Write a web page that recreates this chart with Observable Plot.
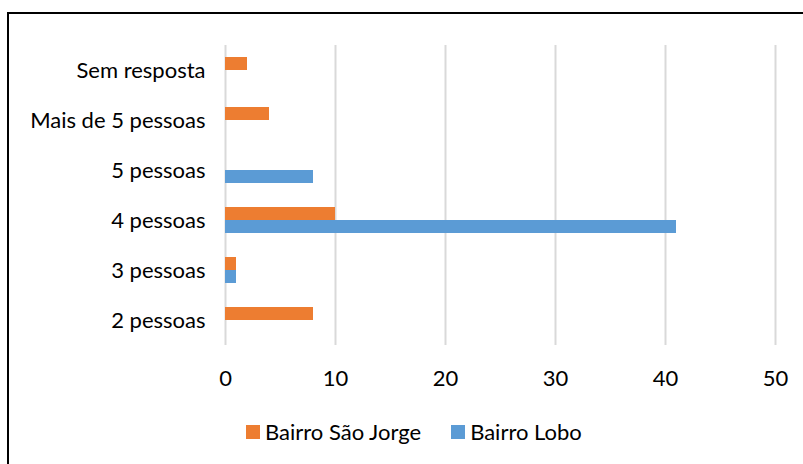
<!DOCTYPE html>
<html><head><meta charset="utf-8">
<script src="https://cdn.jsdelivr.net/npm/d3@7"></script>
<script src="https://cdn.jsdelivr.net/npm/@observablehq/plot@0.6"></script>
<style>
body{margin:0;background:#fff;font-family:Lato, "Open Sans", sans-serif;width:803px;height:464px;overflow:hidden;position:relative;}
#frame{position:absolute;left:7px;top:12px;width:830px;height:490px;border:2px solid #000;box-sizing:border-box;pointer-events:none;}
#chart{position:absolute;left:0;top:0;}
#legend{position:absolute;left:246px;top:421px;display:flex;align-items:center;font-size:22px;color:#000;line-height:22px;}
.sw{display:inline-block;width:14px;height:14px;margin-right:5px;}
.item{display:flex;align-items:center;margin-right:30px;}
</style></head>
<body>
<div id="chart"></div>
<div id="legend"></div>
<div id="frame"></div>
<script>
const categories = ["Sem resposta","Mais de 5 pessoas","5 pessoas","4 pessoas","3 pessoas","2 pessoas"];
const series = ["Bairro São Jorge","Bairro Lobo"];
const saoJorge = [2,4,0,10,1,8];
const lobo = [0,0,8,41,1,0];
const xTicks = [0,10,20,30,40,50];
const colors = ["#ED7D31","#5B9BD5"];

const rows = [];
categories.forEach((c,i)=>{
  rows.push({category:c, series:series[0], value:saoJorge[i]});
  rows.push({category:c, series:series[1], value:lobo[i]});
});

const chart = Plot.plot({
  width:803, height:395,
  marginLeft:225, marginRight:28, marginTop:43, marginBottom:48,
  style:{fontSize:"22px", fontFamily:"Lato, 'Open Sans', sans-serif", color:"#000", background:"transparent"},
  x:{domain:[0,50], ticks:xTicks, tickSize:0, tickPadding:25, label:null},
  fy:{domain:categories, paddingInner:0, paddingOuter:0, axis:"left", tickSize:0, tickPadding:20, label:null},
  y:{domain:series, paddingInner:0, paddingOuter:0.875, axis:null},
  color:{domain:series, range:colors},
  marks:[
    Plot.ruleX(xTicks,{stroke:"#D9D9D9", strokeWidth:2}),
    Plot.barX(rows,{fy:"category", y:"series", x:"value", fill:"series", inset:0})
  ]
});
document.getElementById("chart").appendChild(chart);

const lg = document.getElementById("legend");
series.forEach((s,i)=>{
  const it = document.createElement("div"); it.className="item";
  const sw = document.createElement("span"); sw.className="sw"; sw.style.background=colors[i];
  it.appendChild(sw); it.appendChild(document.createTextNode(s));
  lg.appendChild(it);
});
</script>
</body></html>
